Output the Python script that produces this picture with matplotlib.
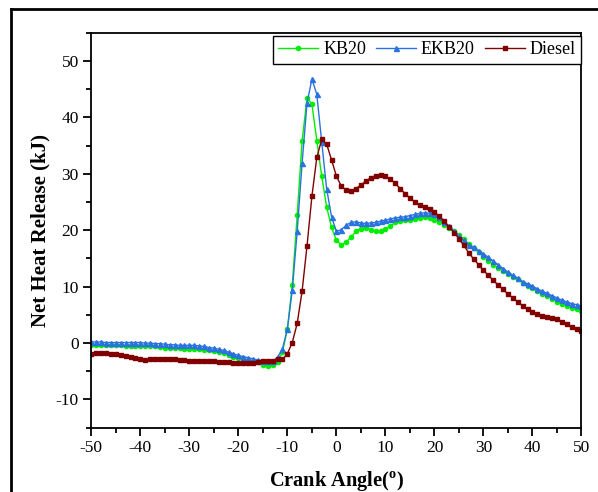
import matplotlib as mpl
mpl.use('Agg')
import matplotlib.pyplot as plt
from matplotlib.lines import Line2D
from matplotlib.ticker import MultipleLocator
import numpy as np

plt.rcParams['font.family'] = ['Liberation Serif', 'DejaVu Serif']
plt.rcParams['mathtext.fontset'] = 'custom'
plt.rcParams['mathtext.rm'] = 'Liberation Serif'
plt.rcParams['mathtext.bf'] = 'Liberation Serif:bold'
plt.rcParams['axes.unicode_minus'] = False

# crank angle, one point per degree
angle = np.arange(-50, 51)

kb20 = [-0.3, -0.3, -0.3, -0.4, -0.4, -0.4, -0.4, -0.5, -0.5, -0.5,
        -0.5, -0.5, -0.5, -0.6, -0.7, -0.8, -0.8, -0.9, -0.9, -1.0,
        -1.0, -1.0, -1.1, -1.2, -1.3, -1.4, -1.6, -1.8, -2.1, -2.4,
        -2.6, -2.8, -3.0, -3.2, -3.4, -3.8, -4.0, -3.9, -3.3, -1.6,
        2.5, 10.3, 22.7, 35.8, 43.4, 42.4, 35.9, 29.6, 24.2, 20.5,
        18.2, 17.4, 17.9, 18.8, 19.8, 20.3, 20.4, 20.1, 19.8, 19.8,
        20.2, 20.7, 21.4, 21.7, 21.8, 21.9, 22.0, 22.2, 22.3, 22.2,
        21.8, 21.4, 20.9, 20.4, 19.8, 19.1, 18.4, 17.6, 16.9, 16.1,
        15.3, 14.6, 13.9, 13.3, 12.7, 12.3, 11.8, 11.3, 10.7, 10.2,
        9.7, 9.2, 8.7, 8.3, 7.9, 7.3, 6.9, 6.6, 6.2, 6.0,
        5.7]

ekb20 = [0.2, 0.2, 0.2, 0.1, 0.1, 0.1, 0.1, 0.1, 0.1, 0.1,
         0.1, 0.0, 0.0, -0.1, -0.1, -0.2, -0.3, -0.3, -0.4, -0.4,
         -0.4, -0.4, -0.5, -0.6, -0.8, -0.9, -1.1, -1.3, -1.6, -1.9,
         -2.2, -2.4, -2.6, -2.8, -3.0, -3.1, -3.2, -3.2, -2.5, -1.0,
         2.5, 9.4, 19.8, 31.9, 42.5, 46.8, 44.1, 35.7, 27.4, 22.4,
         19.8, 20.1, 20.9, 21.4, 21.5, 21.3, 21.2, 21.3, 21.4, 21.6,
         21.8, 22.0, 22.2, 22.3, 22.4, 22.6, 22.8, 23.0, 23.1, 23.0,
         22.8, 22.3, 21.4, 20.7, 19.8, 18.9, 18.2, 17.4, 17.0, 16.4,
         15.8, 15.2, 14.5, 13.9, 13.2, 12.6, 12.0, 11.5, 10.9, 10.5,
         10.1, 9.6, 9.2, 8.8, 8.4, 8.0, 7.6, 7.3, 7.0, 6.8,
         6.6]

diesel = [-2.0, -1.8, -1.7, -1.8, -1.9, -2.0, -2.2, -2.3, -2.5, -2.7,
          -2.9, -3.0, -2.9, -2.8, -2.8, -2.8, -2.8, -2.9, -3.0, -3.0,
          -3.1, -3.1, -3.2, -3.2, -3.2, -3.2, -3.3, -3.3, -3.4, -3.5,
          -3.6, -3.6, -3.6, -3.5, -3.3, -3.2, -3.2, -3.1, -2.9, -2.9,
          -1.9, 0.1, 3.5, 9.2, 17.2, 26.0, 32.9, 36.1, 35.3, 32.5,
          29.6, 27.8, 27.1, 27.0, 27.4, 28.0, 28.7, 29.3, 29.7, 29.8,
          29.6, 29.1, 28.3, 27.4, 26.5, 25.7, 25.0, 24.5, 24.1, 23.7,
          23.2, 22.5, 21.6, 20.6, 19.6, 18.5, 17.3, 16.0, 14.9, 13.9,
          12.9, 12.0, 11.1, 10.3, 9.5, 8.7, 8.0, 7.3, 6.6, 6.0,
          5.5, 5.1, 4.8, 4.7, 4.5, 4.2, 3.7, 3.3, 2.9, 2.5,
          2.2]

fig = plt.figure(figsize=(5.98, 4.92), dpi=100)
ax = fig.add_axes([0.1527, 0.1307, 0.8197, 0.8026])

ax.plot(angle, kb20, color='#00ee00', lw=1.0, marker='o', ms=3.0, label='KB20')
ax.plot(angle, ekb20, color='#2a72e0', lw=1.0, marker='^', ms=3.6, label='EKB20')
ax.plot(angle, diesel, color='#800000', lw=1.0, marker='s', ms=3.0, label='Diesel')

ax.set_xlim(-50, 50)
ax.set_ylim(-15, 55)
ax.xaxis.set_major_locator(MultipleLocator(10))
ax.xaxis.set_minor_locator(MultipleLocator(5))
ax.yaxis.set_major_locator(MultipleLocator(10))
ax.yaxis.set_minor_locator(MultipleLocator(5))
ax.set_yticks(np.arange(-10, 51, 10))
ax.tick_params(which='major', direction='out', length=6, width=1.3, labelsize=12.5, pad=3)
ax.tick_params(which='minor', direction='out', length=3.5, width=1.3)
ax.tick_params(top=False, right=False)
for s in ax.spines.values():
    s.set_linewidth(1.3)

ax.set_xlabel(r'Crank Angle($^\mathbf{o}$)', fontsize=14.7, fontweight='bold', labelpad=9)
ax.set_ylabel('Net Heat Release (kJ)', fontsize=15, fontweight='bold', labelpad=4)

leg = ax.legend(loc='upper right', bbox_to_anchor=(1.0, 0.992), ncol=3, fontsize=13,
                frameon=True, fancybox=False, edgecolor='black', handlelength=2.2,
                handletextpad=0.3, columnspacing=0.55, borderpad=0.3,
                borderaxespad=0.0, framealpha=1)
leg.get_frame().set_linewidth(1.0)

# outer frame around the figure
fig.add_artist(Line2D([11 / 598, 11 / 598], [0, 1 - 9 / 492], transform=fig.transFigure,
                      color='black', lw=2))
fig.add_artist(Line2D([11 / 598, 1], [1 - 9 / 492, 1 - 9 / 492], transform=fig.transFigure,
                      color='black', lw=2))

fig.savefig('out.png', dpi=100)
